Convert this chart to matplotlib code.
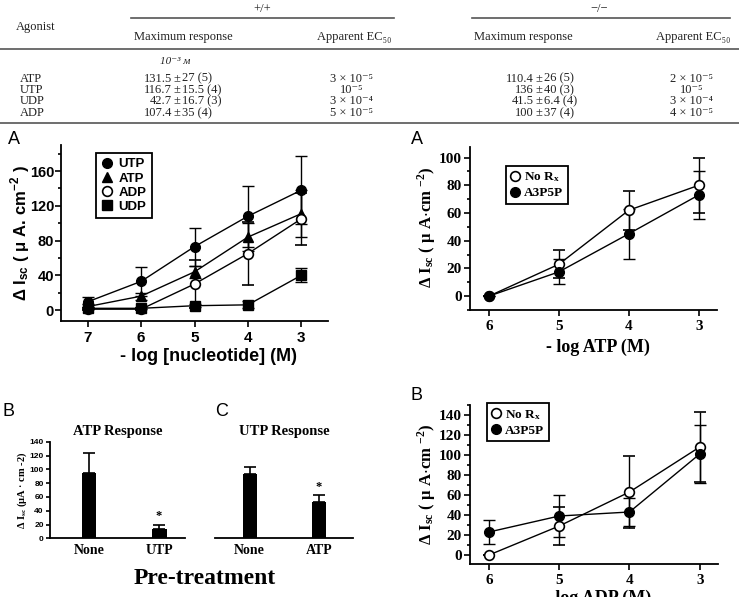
import matplotlib
matplotlib.use("Agg")
import matplotlib.pyplot as plt
from matplotlib.lines import Line2D
from matplotlib.ticker import MultipleLocator
import numpy as np

plt.rcParams['mathtext.fontset'] = 'stix'

W, H = 739, 597
SANS = ['Liberation Sans', 'DejaVu Sans']
SERIF = ['Liberation Serif', 'DejaVu Serif']

# ---------------- data ----------------
table_agonists = ["ATP", "UTP", "UDP", "ADP"]
wt_max_left = ["131.5", "116.7", "42.7", "107.4"]
wt_max_right = ["27 (5)", "15.5 (4)", "16.7 (3)", "35 (4)"]
wt_ec50 = ["3 × 10⁻⁵", "10⁻⁵", "3 × 10⁻⁴", "5 × 10⁻⁵"]
ko_max_left = ["110.4", "136", "41.5", "100"]
ko_max_right = ["26 (5)", "40 (3)", "6.4 (4)", "37 (4)"]
ko_ec50 = ["2 × 10⁻⁵", "10⁻⁵", "3 × 10⁻⁴", "4 × 10⁻⁵"]

nuc_x = [7, 6, 5, 4, 3]
utp_y = [9.5, 33, 73, 108, 138]
utp_err = [6, 17, 22, 35, 39]
atp_y = [4, 16, 44, 84, 111]
atp_err = [3, 4, 7, 16, 27]
adp_y = [1, 1, 30, 65, 105]
adp_err = [1, 1, 28, 36, 30]
udp_y = [2, 2, 5, 6, 40]
udp_err = [1, 1, 2, 4, 8]

atp_x = [6, 5, 4, 3]
atp_norx = [0, 23, 62, 80]
atp_norx_err = [0, 10, 14, 20]
atp_a3p5p = [0, 17.5, 45, 73]
atp_a3p5p_err = [0, 9, 18, 17]

adp_x = [6, 5, 4, 3]
adp_norx = [0, 29, 63, 108]
adp_norx_err = [0, 19, 36, 35]
adp_a3p5p = [23, 39, 43, 101]
adp_a3p5p_err = [12, 21, 14, 29]

bar_b_labels = ["None", "UTP"]
bar_b_vals = [94, 13]
bar_b_err = [29, 7]
bar_c_labels = ["None", "ATP"]
bar_c_vals = [93, 53]
bar_c_err = [11, 10]

# ---------------- figure ----------------
fig = plt.figure(figsize=(W / 100, H / 100), dpi=100)


def px_axes(l, t, r, b):
    return fig.add_axes([l / W, 1 - b / H, (r - l) / W, (b - t) / H])


def ftext(x, y, s, **kw):
    kw.setdefault('ha', 'center')
    kw.setdefault('va', 'center')
    return fig.text(x / W, 1 - y / H, s, **kw)


# ---------------- table ----------------
TC = '#222222'
TF = 9


def tt(x, y, s, ha='center', **kw):
    return ftext(x, y, s, ha=ha, family=SERIF, fontsize=kw.pop('fontsize', TF), color=TC, **kw)


tt(36, 27, "Agonist")
tt(262, 9, "+/+")
tt(599, 9, "−/−")
fig.add_artist(Line2D([131 / W, 394 / W], [1 - 18 / H] * 2, color='#555555', lw=1.2))
fig.add_artist(Line2D([472 / W, 730 / W], [1 - 18 / H] * 2, color='#555555', lw=1.2))
tt(183, 37, "Maximum response")
tt(354, 37, "Apparent EC₅₀")
tt(523, 37, "Maximum response")
tt(693, 37, "Apparent EC₅₀")
fig.add_artist(Line2D([0, 1], [1 - 49 / H] * 2, color='#555555', lw=1.2))
tt(175, 62, "10⁻³ ᴍ", fontsize=8, style='italic')
row_y = [78.5, 90, 101.5, 113]
for i, ag in enumerate(table_agonists):
    y = row_y[i]
    tt(20, y, ag, ha='left')
    tt(172, y, wt_max_left[i], ha='right')
    tt(177, y, "±")
    tt(182, y, wt_max_right[i], ha='left')
    tt(352, y, wt_ec50[i])
    tt(534, y, ko_max_left[i], ha='right')
    tt(539, y, "±")
    tt(544, y, ko_max_right[i], ha='left')
    tt(692, y, ko_ec50[i])
fig.add_artist(Line2D([0, 1], [1 - 123 / H] * 2, color='#555555', lw=1.2))


def style_axes(ax, fam, size, weight='bold'):
    for s in ['top', 'right']:
        ax.spines[s].set_visible(False)
    for s in ['left', 'bottom']:
        ax.spines[s].set_linewidth(1.3)
    ax.tick_params(which='both', direction='out', width=1.2, labelsize=size)
    ax.tick_params(which='major', length=4)
    ax.tick_params(which='minor', length=2.5)
    for lab in ax.get_xticklabels() + ax.get_yticklabels():
        lab.set_family(fam)
        lab.set_fontweight(weight)
    ax.patch.set_alpha(0)


# ---------------- left A ----------------
axA = px_axes(61, 145, 328, 321)
ekw = dict(color='black', lw=1.0, capsize=4, capthick=1.0, elinewidth=1.0)
axA.errorbar(nuc_x, utp_y, yerr=utp_err, marker='o', ms=7, mfc='black', mec='black', label='UTP', **ekw)
axA.errorbar(nuc_x, atp_y, yerr=atp_err, marker='^', ms=7.5, mfc='black', mec='black', label='ATP', **ekw)
axA.errorbar(nuc_x, adp_y, yerr=adp_err, marker='o', ms=7, mfc='white', mec='black', mew=1.2, label='ADP', **ekw)
axA.errorbar(nuc_x, udp_y, yerr=udp_err, marker='s', ms=6.5, mfc='black', mec='black', label='UDP', **ekw)
axA.set_xlim(7.5, 2.5)
axA.set_ylim(-12.6, 190)
axA.set_xticks(nuc_x)
axA.set_yticks([0, 40, 80, 120, 160])
axA.yaxis.set_minor_locator(MultipleLocator(20))
style_axes(axA, SANS, 11)
axA.tick_params(axis='y', pad=1, labelsize=10.5)
handles = [Line2D([], [], ls='none', marker='o', ms=7, mfc='black', mec='black'),
           Line2D([], [], ls='none', marker='^', ms=7.5, mfc='black', mec='black'),
           Line2D([], [], ls='none', marker='o', ms=7, mfc='white', mec='black', mew=1.2),
           Line2D([], [], ls='none', marker='s', ms=6.5, mfc='black', mec='black')]
legA = axA.legend(handles, ['UTP', 'ATP', 'ADP', 'UDP'], loc='upper left',
                  bbox_to_anchor=(0.131, 0.955), borderaxespad=0, fancybox=False,
                  edgecolor='black', framealpha=1, handlelength=0.8, handletextpad=0.5,
                  labelspacing=0.15, borderpad=0.4, prop=dict(family=SANS, weight='bold', size=9.5))
legA.get_frame().set_linewidth(1.3)
axA.set_xlabel("- log [nucleotide] (M)", family=SANS, weight='bold', fontsize=13)
axA.xaxis.set_label_coords((208 - 61) / 267, (321 - 348) / 176)
axA.set_ylabel("Δ I$_\\mathregular{sc}$ ( μ A. cm$^\\mathregular{-2}$ )", family=SANS, weight='bold',
               fontsize=12)
axA.yaxis.set_label_coords((32 - 61) / 267, 0.5)
ftext(14, 140, "A", family=SANS, fontsize=13)

# ---------------- right A (ATP) ----------------
axR1 = px_axes(470, 147, 717, 310)
ekw2 = dict(color='black', lw=1.0, capsize=4, capthick=1.0, elinewidth=1.0)
axR1.errorbar(atp_x, atp_norx, yerr=atp_norx_err, marker='o', ms=7, mfc='white', mec='black', mew=1.2, **ekw2)
axR1.errorbar(atp_x, atp_a3p5p, yerr=atp_a3p5p_err, marker='o', ms=7, mfc='black', mec='black', **ekw2)
axR1.set_xlim(6.27, 2.74)
axR1.set_ylim(-10, 107.6)
axR1.set_xticks(atp_x)
axR1.set_yticks([0, 20, 40, 60, 80, 100])
axR1.yaxis.set_minor_locator(MultipleLocator(10))
style_axes(axR1, SERIF, 11)
axR1.tick_params(axis='y', pad=2)
hR = [Line2D([], [], ls='none', marker='o', ms=7, mfc='white', mec='black', mew=1.2),
      Line2D([], [], ls='none', marker='o', ms=7, mfc='black', mec='black')]
legR1 = axR1.legend(hR, ['No R$_\\mathregular{x}$', 'A3P5P'], loc='upper left',
                    bbox_to_anchor=(0.146, 0.883), borderaxespad=0, fancybox=False,
                    edgecolor='black', framealpha=1, handlelength=0.6, handletextpad=0.4,
                    labelspacing=0.2, borderpad=0.35, prop=dict(family=SERIF, weight='bold', size=9.5))
legR1.get_frame().set_linewidth(1.3)
axR1.set_xlabel("- log ATP (M)", family=SERIF, weight='bold', fontsize=13)
axR1.xaxis.set_label_coords((598 - 470) / 247, (310 - 339) / 163)
ylab_r = "Δ I$_\\mathregular{sc}$ ( μ A$\\cdot$cm $^\\mathregular{-2}$)"
axR1.set_ylabel(ylab_r, family=SERIF, weight='bold', fontsize=12)
axR1.yaxis.set_label_coords((438 - 470) / 247, (310 - 227) / 163)
ftext(417, 140, "A", family=SANS, fontsize=13)

# ---------------- right B (ADP) ----------------
axR2 = px_axes(470, 405, 718, 564)
axR2.errorbar(adp_x, adp_norx, yerr=adp_norx_err, marker='o', ms=7, mfc='white', mec='black', mew=1.2, **ekw2)
axR2.errorbar(adp_x, adp_a3p5p, yerr=adp_a3p5p_err, marker='o', ms=7, mfc='black', mec='black', **ekw2)
axR2.set_xlim(6.27, 2.74)
axR2.set_ylim(-9, 150)
axR2.set_xticks(adp_x)
axR2.set_yticks([0, 20, 40, 60, 80, 100, 120, 140])
axR2.yaxis.set_minor_locator(MultipleLocator(10))
style_axes(axR2, SERIF, 11)
axR2.tick_params(axis='y', pad=2)
legR2 = axR2.legend(hR, ['No R$_\\mathregular{x}$', 'A3P5P'], loc='upper left',
                    bbox_to_anchor=(0.069, 1.01), borderaxespad=0, fancybox=False,
                    edgecolor='black', framealpha=1, handlelength=0.6, handletextpad=0.4,
                    labelspacing=0.2, borderpad=0.35, prop=dict(family=SERIF, weight='bold', size=9.5))
legR2.get_frame().set_linewidth(1.3)
axR2.set_xlabel("- log ADP (M)", family=SERIF, weight='bold', fontsize=13)
axR2.xaxis.set_label_coords((598 - 470) / 248, (564 - 590) / 159)
axR2.set_ylabel(ylab_r, family=SERIF, weight='bold', fontsize=12)
axR2.yaxis.set_label_coords((438 - 470) / 248, 0.5)
ftext(417, 395, "B", family=SANS, fontsize=13)

# ---------------- bars B ----------------
axB = px_axes(50, 441.7, 185, 538.3)
xb = np.arange(len(bar_b_labels))
axB.bar(xb, bar_b_vals, width=0.214, color='black')
axB.errorbar(xb, bar_b_vals, yerr=[np.zeros(len(xb)), bar_b_err], fmt='none', ecolor='black',
             elinewidth=1.2, capsize=4, capthick=1.2)
axB.text(xb[1], bar_b_vals[1] + bar_b_err[1] + 3, "*", ha='center', va='bottom', family=SERIF,
         weight='bold', fontsize=9)
axB.set_xlim(-0.557, 1.371)
axB.set_ylim(0, 140)
axB.set_yticks(range(0, 141, 20))
axB.set_xticks(xb)
axB.set_xticklabels(bar_b_labels)
style_axes(axB, SANS, 6)
axB.tick_params(axis='x', length=0, labelsize=10, pad=4)
for lab in axB.get_xticklabels():
    lab.set_family(SERIF)
axB.tick_params(axis='y', length=3, pad=1.5)
axB.set_title("ATP Response", family=SERIF, weight='bold', fontsize=10.5, pad=5)
axB.set_ylabel("Δ I$_\\mathregular{sc}$ (μA · cm -2)", family=SERIF, weight='bold', fontsize=7.5)
axB.yaxis.set_label_coords((29 - 50) / 135, 0.5)
ftext(9, 412, "B", family=SANS, fontsize=13)

# ---------------- bars C ----------------
axC = px_axes(215, 441.7, 353, 538.3)
xc = np.arange(len(bar_c_labels))
axC.bar(xc, bar_c_vals, width=0.2, color='black')
axC.errorbar(xc, bar_c_vals, yerr=[np.zeros(len(xc)), bar_c_err], fmt='none', ecolor='black',
             elinewidth=1.2, capsize=4, capthick=1.2)
axC.text(xc[1], bar_c_vals[1] + bar_c_err[1] + 3, "*", ha='center', va='bottom', family=SERIF,
         weight='bold', fontsize=9)
axC.set_xlim(-0.5, 1.49)
axC.set_ylim(0, 140)
axC.set_xticks(xc)
axC.set_xticklabels(bar_c_labels)
style_axes(axC, SERIF, 10)
axC.spines['left'].set_visible(False)
axC.set_yticks([])
axC.tick_params(axis='x', length=0, labelsize=10, pad=4)
axC.set_title("UTP Response", family=SERIF, weight='bold', fontsize=10.5, pad=5)
ftext(222, 412, "C", family=SANS, fontsize=13)

ftext(205, 578, "Pre-treatment", family=SERIF, weight='bold', fontsize=17)

fig.savefig("out.png", dpi=100)
